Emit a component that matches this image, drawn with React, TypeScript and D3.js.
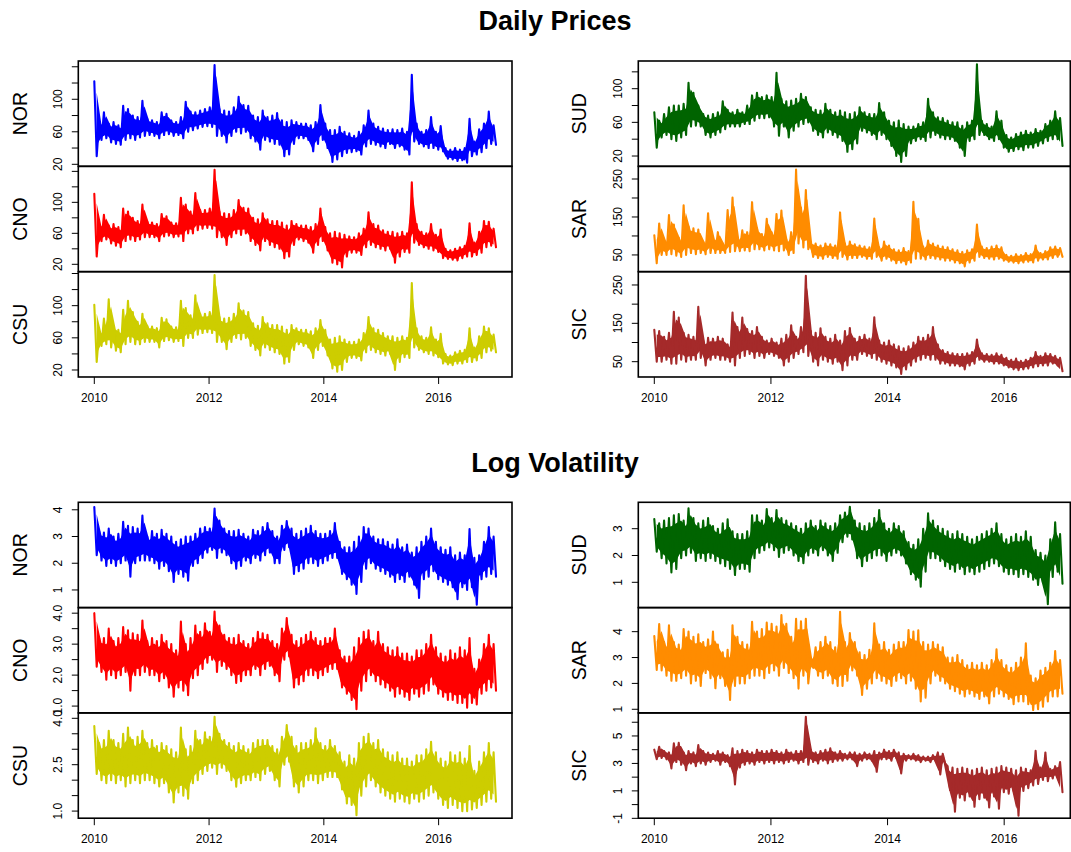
import React from 'react';
import * as d3 from 'd3';

// ---------- data (monthly high / low pairs, Jan 2010 .. Dec 2016) ----------
const START_YEAR = 2010;
const END_YEAR = 2017;
const X_TICKS = [2010, 2012, 2014, 2016];

const NOR_PRICE = [
  122,30, 72,50, 84,52, 70,47, 72,45, 68,44, 92,50, 88,52, 80,50, 78,53, 98,55, 76,56,
  74,55, 72,52, 84,56, 82,57, 74,55, 72,56, 78,52, 97,60, 85,62, 84,64, 86,66, 88,67,
  90,66, 142,55, 88,55, 86,47, 85,55, 90,60, 103,58, 93,60, 92,52, 80,48, 78,38, 86,50,
  78,48, 80,45, 83,44, 74,30, 72,32, 74,45, 72,52, 70,52, 70,50, 68,36, 72,45, 93,50,
  70,40, 62,23, 62,26, 66,30, 60,34, 58,35, 55,36, 60,32, 68,42, 86,45, 70,44, 66,42,
  64,40, 62,45, 63,40, 62,42, 64,38, 60,32, 130,48, 70,45, 60,42, 62,40, 78,40, 60,38,
  67,36, 40,27, 38,26, 40,24, 38,25, 40,22, 76,30, 48,32, 63,35, 70,40, 85,45, 68,44,
];
const CNO_PRICE = [
  111,30, 72,50, 84,52, 70,47, 72,44, 68,42, 92,50, 88,52, 80,50, 76,52, 97,55, 75,55,
  74,55, 72,50, 85,56, 82,57, 74,55, 73,56, 106,50, 97,60, 88,60, 112,64, 90,66, 90,67,
  92,66, 142,55, 88,55, 86,45, 85,55, 90,60, 103,58, 93,60, 92,50, 80,45, 78,38, 86,50,
  78,45, 76,42, 76,40, 74,28, 70,30, 76,45, 72,52, 70,50, 70,48, 68,35, 72,45, 92,50,
  68,38, 60,22, 62,20, 60,16, 58,30, 56,35, 55,35, 60,32, 66,42, 87,45, 72,42, 70,40,
  64,38, 62,40, 62,22, 60,30, 62,36, 60,35, 126,48, 72,45, 62,42, 60,40, 72,38, 58,36,
  65,28, 40,27, 38,26, 40,25, 42,28, 44,30, 73,30, 48,32, 62,35, 76,42, 75,44, 66,42,
];
const CSU_PRICE = [
  101,30, 68,50, 84,52, 108,48, 75,44, 70,42, 95,52, 106,55, 92,52, 80,52, 90,55, 75,55,
  74,55, 72,48, 85,56, 83,57, 74,55, 73,56, 106,50, 97,60, 88,60, 113,64, 90,66, 90,67,
  92,66, 138,55, 86,55, 84,46, 85,55, 90,60, 103,58, 94,60, 92,50, 78,45, 75,38, 86,48,
  78,45, 76,42, 76,40, 74,28, 70,30, 76,45, 72,52, 70,50, 70,48, 68,35, 72,45, 82,50,
  70,38, 58,22, 60,18, 62,20, 58,30, 55,35, 55,35, 58,32, 66,42, 86,45, 72,42, 70,40,
  66,38, 62,40, 62,20, 60,30, 62,36, 60,35, 128,48, 72,45, 62,42, 60,40, 73,38, 58,36,
  65,28, 40,27, 38,26, 42,28, 44,28, 45,30, 72,30, 48,32, 62,35, 74,42, 72,44, 64,42,
];
const SUD_PRICE = [
  72,30, 62,42, 70,45, 78,40, 80,38, 80,42, 82,45, 107,55, 95,56, 80,55, 70,45, 68,42,
  70,45, 72,48, 85,52, 75,55, 72,55, 75,55, 72,58, 80,58, 92,62, 95,65, 90,65, 92,66,
  90,55, 119,44, 88,55, 85,42, 86,50, 88,55, 94,58, 90,60, 78,50, 75,45, 74,42, 82,48,
  75,45, 72,42, 74,38, 72,25, 70,28, 72,35, 78,50, 72,48, 70,45, 70,40, 83,45, 72,40,
  62,32, 60,20, 62,13, 58,20, 55,35, 55,38, 58,40, 60,38, 88,42, 72,45, 66,42, 65,40,
  62,40, 60,38, 60,30, 56,20, 60,38, 62,40, 129,45, 62,45, 58,40, 55,38, 73,40, 62,30,
  45,25, 42,26, 46,28, 48,27, 50,30, 48,30, 52,32, 50,35, 58,38, 62,40, 73,40, 65,32,
];
const SAR_PRICE = [
  102,28, 133,50, 90,50, 155,52, 130,48, 95,45, 181,50, 125,55, 120,52, 117,55, 85,52, 160,55,
  95,55, 110,55, 80,55, 168,58, 201,60, 95,60, 115,62, 110,60, 189,65, 120,65, 105,62, 145,65,
  110,62, 158,60, 167,62, 90,50, 110,55, 275,80, 175,70, 221,65, 85,45, 80,42, 75,40, 80,45,
  78,42, 75,40, 162,45, 80,38, 85,42, 78,42, 75,45, 72,40, 70,40, 146,45, 70,35, 85,40,
  75,35, 65,28, 62,30, 68,25, 60,30, 190,40, 145,40, 72,38, 88,42, 80,40, 75,38, 72,35,
  70,35, 65,30, 62,28, 58,20, 62,30, 65,35, 130,45, 72,42, 68,40, 72,38, 75,40, 70,35,
  50,32, 48,30, 52,28, 50,30, 55,32, 52,30, 75,35, 55,38, 60,38, 70,42, 72,45, 68,45,
];
const SIC_PRICE = [
  133,50, 130,50, 115,55, 125,45, 180,45, 165,55, 125,50, 120,55, 115,55, 193,60, 105,40, 112,55,
  110,60, 115,55, 110,55, 95,50, 178,40, 140,60, 165,65, 135,70, 130,60, 140,65, 115,60, 105,70,
  110,65, 100,60, 110,40, 120,50, 145,60, 115,70, 140,75, 274,65, 130,50, 125,40, 137,55, 115,50,
  110,45, 120,50, 105,28, 130,40, 138,55, 110,55, 115,70, 120,65, 110,60, 166,55, 105,50, 100,45,
  105,40, 95,35, 90,18, 85,30, 90,40, 100,50, 115,55, 112,60, 120,55, 140,55, 95,45, 80,45,
  75,40, 72,40, 70,38, 70,30, 72,40, 75,45, 108,55, 72,50, 70,50, 68,45, 72,45, 68,40,
  60,35, 55,30, 58,28, 52,30, 55,32, 60,35, 75,38, 65,40, 72,40, 70,45, 65,40, 60,25,
];

const NOR_VOL = [
  4.1,2.3, 3.2,2.1, 3.15,1.9, 3.3,2.0, 3.0,1.9, 3.1,2.0, 3.55,2.1, 3.4,1.5, 3.35,2.0, 3.3,2.1, 3.78,2.1, 3.0,2.1,
  3.2,2.0, 3.1,1.8, 3.25,1.9, 3.1,1.7, 3.0,1.3, 2.8,1.6, 2.9,1.5, 3.0,1.35, 3.0,1.9, 3.1,2.0, 3.3,2.2, 3.35,2.4,
  3.3,2.5, 4.05,2.2, 3.6,2.4, 3.3,2.3, 3.2,2.0, 3.2,1.8, 3.25,1.9, 3.1,2.1, 3.0,2.0, 3.25,2.2, 3.2,2.1, 3.35,2.3,
  3.5,2.4, 3.2,2.0, 3.0,2.0, 3.4,2.5, 3.58,2.6, 3.3,1.6, 3.1,1.7, 3.2,1.8, 3.3,2.0, 3.4,2.0, 3.2,1.9, 3.1,2.0,
  3.1,2.1, 3.2,2.2, 3.5,2.2, 2.8,1.6, 2.6,1.4, 2.6,1.2, 2.8,0.85, 3.0,1.3, 3.35,1.8, 3.3,2.0, 3.0,1.8, 2.9,1.7,
  2.9,1.6, 2.8,1.5, 2.7,1.3, 2.9,1.4, 2.6,1.3, 2.7,1.5, 2.4,1.2, 2.6,0.7, 2.8,1.4, 3.0,1.5, 3.3,1.7, 2.8,1.4,
  2.6,1.3, 2.5,1.2, 2.6,1.1, 2.3,0.65, 2.4,1.1, 2.3,1.0, 3.28,1.1, 2.2,0.45, 2.3,1.4, 2.8,1.5, 3.35,1.6, 3.0,1.5,
];
const CNO_VOL = [
  4.0,2.27, 3.2,2.1, 3.2,1.85, 3.5,2.0, 3.1,1.9, 3.2,2.0, 3.55,2.1, 3.45,1.5, 3.35,2.0, 3.3,2.0, 3.76,2.1, 3.1,2.0,
  3.2,2.0, 3.1,1.8, 3.3,1.9, 3.1,1.6, 3.0,1.3, 2.8,1.6, 3.73,1.5, 3.0,1.35, 3.2,1.9, 3.6,2.0, 3.4,2.2, 3.67,2.4,
  3.4,2.5, 4.05,2.1, 3.6,2.3, 3.3,2.2, 3.2,2.0, 3.2,1.75, 3.3,1.8, 3.1,2.0, 3.0,2.0, 3.2,2.2, 3.4,2.0, 3.35,2.2,
  3.3,2.3, 3.1,2.0, 3.0,1.8, 3.5,2.5, 3.84,2.6, 3.3,1.6, 3.1,1.7, 3.2,1.8, 3.3,2.0, 3.4,2.0, 3.2,1.9, 3.1,2.0,
  3.2,2.1, 3.2,2.2, 3.5,2.2, 2.8,1.6, 2.6,1.4, 2.6,1.2, 2.9,0.9, 3.2,1.5, 3.4,1.8, 3.45,2.0, 3.1,1.8, 3.4,1.7,
  3.0,1.6, 2.9,1.5, 2.8,1.3, 2.9,1.4, 2.7,1.3, 2.7,1.2, 2.6,1.4, 2.8,1.3, 2.8,1.4, 3.0,1.5, 3.3,1.7, 2.9,1.4,
  2.7,1.3, 2.6,1.2, 2.8,1.2, 2.7,1.1, 2.9,1.1, 2.8,0.95, 3.2,1.1, 2.2,1.05, 2.5,1.4, 3.0,1.5, 3.3,1.6, 3.0,1.5,
];
const CSU_VOL = [
  3.75,2.2, 3.2,2.0, 3.3,1.9, 3.6,2.0, 3.3,1.9, 3.2,2.0, 3.5,1.8, 3.7,1.9, 3.3,2.0, 3.4,1.9, 3.6,2.0, 3.2,2.0,
  3.3,1.9, 3.1,1.8, 3.2,1.9, 3.1,1.6, 3.0,1.28, 2.9,1.6, 3.7,1.5, 3.0,1.4, 3.1,1.9, 3.6,2.0, 3.3,2.2, 3.55,2.3,
  3.4,2.4, 4.05,2.2, 3.5,2.4, 3.3,2.3, 3.2,2.0, 3.1,1.79, 3.2,1.9, 3.1,2.0, 3.0,2.0, 3.2,2.1, 3.3,2.0, 3.3,2.2,
  3.3,2.3, 3.1,2.0, 3.0,1.8, 3.4,2.5, 3.78,2.6, 3.4,1.8, 3.1,1.6, 3.2,1.8, 3.2,2.0, 3.3,2.0, 3.68,1.9, 3.2,2.0,
  3.1,2.1, 3.3,2.1, 3.1,2.1, 2.9,1.7, 2.6,1.25, 2.8,1.2, 2.7,0.87, 3.2,1.5, 3.4,1.8, 3.5,2.0, 3.2,1.8, 3.3,1.6,
  3.0,1.5, 2.9,1.4, 2.8,1.3, 2.9,1.4, 2.7,1.3, 2.7,1.25, 2.6,1.4, 2.8,1.3, 2.8,1.4, 3.0,1.5, 3.24,1.6, 2.9,1.4,
  2.7,1.2, 2.6,1.1, 2.9,1.2, 2.8,1.1, 2.9,1.0, 2.7,1.0, 3.1,1.05, 2.3,1.1, 2.6,1.2, 2.9,1.3, 3.2,1.4, 2.9,1.3,
];
const SUD_VOL = [
  3.36,2.14, 3.2,1.9, 3.3,1.7, 3.4,1.37, 3.5,1.5, 3.55,1.9, 3.3,2.0, 3.76,2.1, 3.4,1.8, 3.2,1.9, 3.3,1.8, 3.4,1.9,
  3.1,1.8, 3.0,1.7, 3.2,1.6, 3.35,1.5, 2.9,1.27, 2.8,1.5, 2.8,1.5, 2.9,1.4, 3.5,1.9, 3.5,2.1, 3.3,2.2, 3.73,2.3,
  3.4,2.2, 3.7,1.95, 3.4,2.1, 3.3,2.2, 3.2,2.0, 3.1,1.8, 3.0,1.71, 3.2,2.0, 3.3,2.1, 3.1,2.0, 3.3,2.2, 3.2,2.0,
  3.1,1.8, 3.2,2.1, 3.5,2.5, 3.6,2.7, 3.82,2.6, 3.3,1.9, 3.2,1.6, 3.1,1.8, 3.2,1.9, 3.4,2.0, 3.7,2.0, 3.2,1.8,
  3.0,2.0, 3.2,2.1, 3.1,2.0, 2.9,1.7, 2.5,1.3, 2.4,1.1, 2.6,0.84, 3.0,1.4, 3.57,1.9, 3.3,1.9, 3.1,1.8, 3.0,1.6,
  2.9,1.5, 2.8,1.4, 2.9,1.5, 2.8,1.3, 2.7,1.4, 2.6,1.3, 2.7,1.4, 2.8,1.5, 2.9,1.6, 3.0,1.7, 3.2,1.6, 2.8,1.4,
  2.6,1.3, 2.7,1.3, 2.8,1.2, 2.7,1.3, 2.9,1.2, 2.7,1.1, 2.2,0.9, 2.1,1.0, 2.0,0.18, 2.6,1.2, 3.24,1.4, 2.8,0.95,
];
const SAR_VOL = [
  3.83,2.52, 4.29,2.5, 3.6,2.3, 4.25,2.1, 3.6,2.1, 3.5,2.2, 4.1,2.3, 4.0,2.0, 3.8,2.1, 3.9,1.9, 3.6,2.4, 3.7,2.2,
  4.0,1.81, 3.5,2.2, 3.2,1.9, 3.3,1.36, 4.25,1.9, 3.8,2.0, 3.6,2.0, 3.5,2.2, 4.38,2.3, 4.0,2.3, 4.1,2.2, 4.35,2.4,
  4.3,2.5, 4.2,2.3, 4.64,2.6, 4.3,2.4, 3.8,2.2, 4.5,1.8, 4.4,2.3, 4.5,2.0, 3.0,2.6, 3.4,2.3, 3.6,2.2, 3.8,2.3,
  3.6,2.0, 3.4,1.9, 4.77,1.9, 3.6,2.1, 3.95,2.5, 3.6,2.3, 3.2,1.55, 3.1,1.8, 3.3,2.0, 4.32,2.2, 3.5,2.1, 3.6,2.0,
  3.3,1.9, 3.5,2.1, 3.6,2.2, 3.6,2.0, 4.06,2.1, 4.0,1.8, 4.05,1.3, 3.6,1.45, 3.5,2.0, 3.6,2.3, 3.5,2.1, 3.4,2.0,
  3.0,1.8, 3.0,1.7, 3.1,1.6, 2.9,1.5, 2.7,1.6, 2.8,1.5, 2.7,1.4, 2.8,1.5, 2.7,1.23, 2.9,1.5, 3.32,1.6, 2.9,1.5,
  2.7,1.4, 2.6,1.2, 2.8,1.3, 3.0,1.3, 3.55,1.2, 2.3,0.97, 2.2,1.0, 2.5,1.1, 2.6,1.3, 2.8,1.5, 3.25,1.5, 2.9,1.6,
];
const SIC_VOL = [
  4.0,3.3, 4.21,3.4, 3.9,3.3, 3.8,2.64, 4.46,3.1, 4.5,2.9, 3.8,2.51, 3.9,3.0, 3.8,2.8, 4.33,3.0, 3.9,2.9, 3.8,3.1,
  3.7,3.2, 3.9,2.9, 3.8,3.1, 3.6,2.8, 4.1,1.47, 3.9,2.7, 4.0,2.9, 3.9,3.0, 3.8,2.9, 4.0,3.1, 3.9,3.0, 3.9,3.1,
  4.0,3.0, 3.9,3.1, 3.8,3.0, 4.0,3.1, 3.8,3.2, 3.9,3.0, 3.9,3.1, 6.4,2.9, 4.0,3.1, 3.8,3.0, 3.9,3.2, 4.0,3.0,
  4.1,3.1, 3.8,3.2, 3.9,3.2, 3.7,3.3, 3.8,3.3, 3.8,2.8, 3.7,3.2, 3.8,3.3, 3.7,3.2, 3.9,2.39, 3.8,3.3, 4.0,3.3,
  3.9,3.2, 4.0,3.4, 3.8,2.27, 3.7,3.2, 3.6,3.3, 3.7,3.2, 3.6,3.1, 3.5,3.2, 3.5,3.1, 3.6,3.2, 3.8,2.2, 3.7,3.0,
  2.8,1.06, 2.7,-0.52, 2.6,0.5, 2.7,0.3, 2.6,0.6, 2.5,-0.16, 2.6,0.4, 2.7,0.5, 2.5,-0.2, 2.6,0.6, 2.7,-0.3, 2.8,0.9,
  2.7,0.8, 2.6,1.0, 2.5,-0.81, 2.7,1.0, 2.6,1.2, 2.5,1.4, 3.92,1.5, 2.7,1.8, 3.8,1.7, 2.6,1.9, 2.8,2.0, 3.1,0.9,
];

// axis limits and ticks per panel
const NOR_PRICE_LIM = [17.5, 147.1];
const CNO_PRICE_LIM = [10.5, 146.5];
const CSU_PRICE_LIM = [11.3, 142.3];
const SUD_PRICE_LIM = [7.75, 132.9];
const SAR_PRICE_LIM = [6, 283.4];
const SIC_PRICE_LIM = [10.1, 284.7];
const NOR_VOL_LIM = [0.34, 4.28];
const CNO_VOL_LIM = [0.78, 4.18];
const CSU_VOL_LIM = [0.77, 4.175];
const SUD_VOL_LIM = [0.056, 3.985];
const SAR_VOL_LIM = [0.86, 4.93];
const SIC_VOL_LIM = [-0.99, 6.68];

const PRICE_TICKS_A = [20, 40, 60, 80, 100, 120, 140];
const PRICE_LABELS_A = [20, 60, 100];
const PRICE_TICKS_SUD = [20, 40, 60, 80, 100, 120];
const PRICE_TICKS_B = [50, 100, 150, 200, 250];
const PRICE_LABELS_B = [50, 150, 250];
const VOL_TICKS_INT = [1, 2, 3, 4];
const VOL_TICKS_HALF = [1, 1.5, 2, 2.5, 3, 3.5, 4];
const VOL_LABELS_CNO = [1, 2, 3, 4];
const VOL_LABELS_CSU = [1, 2.5, 4];
const VOL_TICKS_SUD = [1, 2, 3];
const VOL_TICKS_SIC = [-1, 0, 1, 2, 3, 4, 5, 6];
const VOL_LABELS_SIC = [-1, 1, 3, 5];

const COLORS: Record<string, string> = {
  NOR: '#0000FF', CNO: '#FF0000', CSU: '#CDCD00',
  SUD: '#006400', SAR: '#FF8C00', SIC: '#A52A2A',
};

const GROUP_TITLES = ['Daily Prices', 'Log Volatility'];

// ---------- layout ----------
const W = 1071, H = 852;
const FONT = "'Liberation Sans', Arial, Helvetica, sans-serif";
const COLS = [
  { boxL: 78.3, boxR: 512, x0: 94.3, x1: 496, labelX: 20 },
  { boxL: 638.3, boxR: 1070.3, x0: 654.3, x1: 1062.5, labelX: 579 },
];
const GROUPS = [
  { top: 61, h: 105.33, titleY: 30 },
  { top: 502.3, h: 105.3, titleY: 472 },
];
// share of each month's high-low range left unfilled at the edges,
// so the jagged high/low line shows through as in the dense original trace
const CORE_INSET = 0.15;

const fmt1 = d3.format('.1f');
const fmt0 = (v: number) => String(v);

const PANELS = [
  { g: 0, c: 0, r: 0, name: 'NOR', data: NOR_PRICE, lim: NOR_PRICE_LIM, ticks: PRICE_TICKS_A, labels: PRICE_LABELS_A, f: fmt0 },
  { g: 0, c: 0, r: 1, name: 'CNO', data: CNO_PRICE, lim: CNO_PRICE_LIM, ticks: PRICE_TICKS_A, labels: PRICE_LABELS_A, f: fmt0 },
  { g: 0, c: 0, r: 2, name: 'CSU', data: CSU_PRICE, lim: CSU_PRICE_LIM, ticks: PRICE_TICKS_A, labels: PRICE_LABELS_A, f: fmt0 },
  { g: 0, c: 1, r: 0, name: 'SUD', data: SUD_PRICE, lim: SUD_PRICE_LIM, ticks: PRICE_TICKS_SUD, labels: PRICE_LABELS_A, f: fmt0 },
  { g: 0, c: 1, r: 1, name: 'SAR', data: SAR_PRICE, lim: SAR_PRICE_LIM, ticks: PRICE_TICKS_B, labels: PRICE_LABELS_B, f: fmt0 },
  { g: 0, c: 1, r: 2, name: 'SIC', data: SIC_PRICE, lim: SIC_PRICE_LIM, ticks: PRICE_TICKS_B, labels: PRICE_LABELS_B, f: fmt0 },
  { g: 1, c: 0, r: 0, name: 'NOR', data: NOR_VOL, lim: NOR_VOL_LIM, ticks: VOL_TICKS_INT, labels: VOL_TICKS_INT, f: fmt0 },
  { g: 1, c: 0, r: 1, name: 'CNO', data: CNO_VOL, lim: CNO_VOL_LIM, ticks: VOL_TICKS_HALF, labels: VOL_LABELS_CNO, f: fmt1 },
  { g: 1, c: 0, r: 2, name: 'CSU', data: CSU_VOL, lim: CSU_VOL_LIM, ticks: VOL_TICKS_HALF, labels: VOL_LABELS_CSU, f: fmt1 },
  { g: 1, c: 1, r: 0, name: 'SUD', data: SUD_VOL, lim: SUD_VOL_LIM, ticks: VOL_TICKS_SUD, labels: VOL_TICKS_SUD, f: fmt0 },
  { g: 1, c: 1, r: 1, name: 'SAR', data: SAR_VOL, lim: SAR_VOL_LIM, ticks: VOL_TICKS_INT, labels: VOL_TICKS_INT, f: fmt0 },
  { g: 1, c: 1, r: 2, name: 'SIC', data: SIC_VOL, lim: SIC_VOL_LIM, ticks: VOL_TICKS_SIC, labels: VOL_LABELS_SIC, f: fmt0 },
];

export default function App() {
  const xScales = COLS.map((c) =>
    d3.scaleLinear().domain([START_YEAR, END_YEAR]).range([c.x0, c.x1])
  );

  return (
    <svg
      width={W}
      height={H}
      viewBox={`0 0 ${W} ${H}`}
      style={{ position: 'absolute', left: 0, top: 0, background: '#fff' }}
      fontFamily={FONT}
    >
      <rect x={0} y={0} width={W} height={H} fill="#fff" />
      {GROUPS.map((g, gi) => (
        <text
          key={'t' + gi}
          x={555}
          y={g.titleY}
          textAnchor="middle"
          fontSize={27}
          fontWeight="bold"
          fill="#000"
        >
          {GROUP_TITLES[gi]}
        </text>
      ))}

      {PANELS.map((p, pi) => {
        const col = COLS[p.c];
        const grp = GROUPS[p.g];
        const y0 = grp.top + p.r * grp.h;
        const y1 = y0 + grp.h;
        const xs = xScales[p.c];
        const ys = d3.scaleLinear().domain(p.lim).range([y1, y0]);
        const n = p.data.length;
        const months = n / 2;
        // zig-zag through every high/low value
        const pts: [number, number][] = p.data.map((v, i) => [
          START_YEAR + ((END_YEAR - START_YEAR) * i) / (n - 1),
          v,
        ]);
        // dense core of each month's high/low range
        const band = d3.range(months).map((m) => ({
          t: START_YEAR + (m + 0.5) / 12,
          hi: p.data[2 * m],
          lo: p.data[2 * m + 1],
        }));
        const line = d3
          .line<[number, number]>()
          .x((d) => xs(d[0]))
          .y((d) => ys(d[1]));
        const area = d3
          .area<{ t: number; hi: number; lo: number }>()
          .x((d) => xs(d.t))
          .y0((d) => ys(d.lo) - (ys(d.lo) - ys(d.hi)) * CORE_INSET)
          .y1((d) => ys(d.hi) + (ys(d.lo) - ys(d.hi)) * CORE_INSET);
        const clipId = 'clip' + pi;
        return (
          <g key={'p' + pi}>
            <clipPath id={clipId}>
              <rect x={col.boxL} y={y0} width={col.boxR - col.boxL} height={grp.h} />
            </clipPath>
            <g clipPath={`url(#${clipId})`}>
              <path d={area(band) || ''} fill={COLORS[p.name]} stroke="none" />
              <path
                d={line(pts) || ''}
                fill="none"
                stroke={COLORS[p.name]}
                strokeWidth={2.1}
                strokeLinejoin="round"
                strokeLinecap="round"
              />
            </g>
            <rect
              x={col.boxL}
              y={y0}
              width={col.boxR - col.boxL}
              height={grp.h}
              fill="none"
              stroke="#000"
              strokeWidth={1.6}
            />
            {p.ticks.map((t) => (
              <line
                key={'tk' + t}
                x1={col.boxL - 6.5}
                x2={col.boxL}
                y1={ys(t)}
                y2={ys(t)}
                stroke="#000"
                strokeWidth={1}
              />
            ))}
            {p.labels.map((t) => (
              <text
                key={'tl' + t}
                transform={`translate(${col.boxL - 20},${ys(t)}) rotate(-90)`}
                textAnchor="middle"
                dominantBaseline="central"
                fontSize={12}
                fill="#000"
              >
                {p.f(t)}
              </text>
            ))}
            <text
              transform={`translate(${col.labelX},${(y0 + y1) / 2}) rotate(-90)`}
              textAnchor="middle"
              dominantBaseline="central"
              fontSize={19.5}
              fill="#000"
            >
              {p.name}
            </text>
          </g>
        );
      })}

      {GROUPS.map((g, gi) =>
        COLS.map((c, ci) => {
          const yb = g.top + 3 * g.h;
          const xs = xScales[ci];
          return (
            <g key={'xa' + gi + ci}>
              {X_TICKS.map((t) => (
                <g key={t}>
                  <line x1={xs(t)} x2={xs(t)} y1={yb} y2={yb + 7} stroke="#000" strokeWidth={1} />
                  <text
                    x={xs(t)}
                    y={yb + 21}
                    textAnchor="middle"
                    dominantBaseline="central"
                    fontSize={12}
                    fill="#000"
                  >
                    {t}
                  </text>
                </g>
              ))}
            </g>
          );
        })
      )}
    </svg>
  );
}
